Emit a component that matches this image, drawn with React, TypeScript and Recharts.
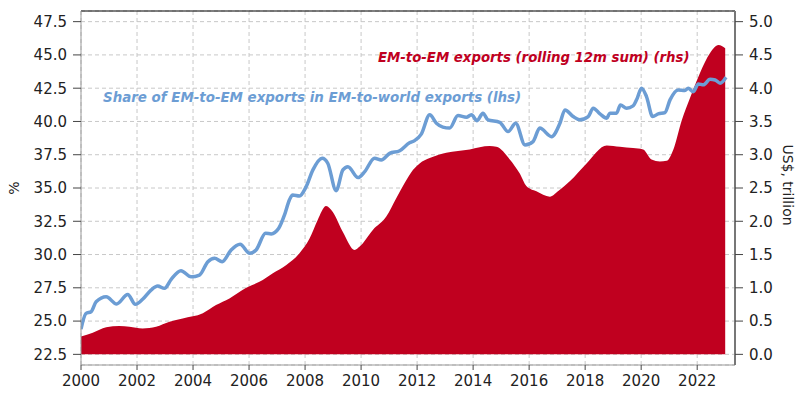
import React from 'react';
import { ComposedChart, Area, Line, XAxis, YAxis, CartesianGrid, ReferenceLine } from 'recharts';

const shareYears = [
  2000.0, 2000.18, 2000.36, 2000.54, 2000.9, 2001.27, 2001.67, 2001.94, 2002.2, 2002.5, 2002.74, 2002.98,
  2003.22, 2003.57, 2003.93, 2004.23, 2004.53, 2004.77, 2005.04, 2005.36, 2005.68, 2006.02, 2006.25, 2006.59,
  2006.79, 2007.06, 2007.27, 2007.44, 2007.56, 2007.8, 2008.04, 2008.28, 2008.61, 2008.81, 2009.11, 2009.35,
  2009.53, 2009.89, 2010.13, 2010.48, 2010.72, 2011.02, 2011.38, 2011.73, 2011.91, 2012.15, 2012.45, 2012.69,
  2012.92, 2013.16, 2013.46, 2013.76, 2013.94, 2014.14, 2014.35, 2014.53, 2014.95, 2015.25, 2015.52, 2015.85,
  2016.14, 2016.38, 2016.8, 2017.1, 2017.28, 2017.57, 2017.81, 2018.11, 2018.29, 2018.53, 2018.77, 2018.88,
  2019.12, 2019.26, 2019.48, 2019.71, 2019.86, 2020.01, 2020.19, 2020.41, 2020.61, 2020.85, 2021.03, 2021.32,
  2021.56, 2021.68, 2021.86, 2022.04, 2022.22, 2022.46, 2022.64, 2022.82, 2023.03,
];
const shareValues = [
  24.4, 25.58, 25.7, 26.45, 26.83, 26.28, 27.0, 26.26, 26.64, 27.33, 27.63, 27.46,
  28.14, 28.79, 28.33, 28.46, 29.46, 29.72, 29.46, 30.34, 30.77, 30.09, 30.34, 31.6,
  31.55, 31.97, 33.0, 34.1, 34.48, 34.4, 35.1, 36.36, 37.24, 36.86, 34.8, 36.36,
  36.6, 35.78, 36.23, 37.24, 37.1, 37.6, 37.8, 38.4, 38.56, 39.05, 40.5, 39.87,
  39.57, 39.5, 40.44, 40.32, 40.5, 40.06, 40.62, 40.12, 39.94, 39.24, 39.87, 38.24,
  38.49, 39.5, 38.86, 39.87, 40.87, 40.37, 40.12, 40.37, 41.0, 40.57, 40.24, 40.62,
  40.62, 41.24, 41.0, 41.17, 41.75, 42.5, 41.87, 40.37, 40.57, 40.67, 41.62, 42.37,
  42.32, 42.5, 42.24, 42.82, 42.75, 43.17, 43.12, 42.87, 43.32,
];

const exportYears = [
  2000.0, 2000.42, 2000.9, 2001.37, 2001.73, 2002.2, 2002.68, 2003.16, 2003.63, 2004.35, 2004.82, 2005.3,
  2005.9, 2006.37, 2006.85, 2007.32, 2007.8, 2008.16, 2008.45, 2008.75, 2008.99, 2009.35, 2009.77, 2009.95,
  2010.42, 2010.9, 2011.26, 2011.55, 2011.85, 2012.09, 2012.45, 2013.04, 2013.88, 2014.59, 2014.83, 2015.31,
  2015.66, 2015.9, 2016.26, 2016.74, 2017.03, 2017.45, 2018.05, 2018.77, 2019.24, 2019.71, 2020.07, 2020.37,
  2020.67, 2020.91, 2021.15, 2021.45, 2021.74, 2022.1, 2022.46, 2022.76, 2023.0,
];
const exportValues = [
  0.27, 0.325, 0.406, 0.426, 0.415, 0.39, 0.415, 0.49, 0.54, 0.617, 0.74, 0.84,
  1.0, 1.09, 1.22, 1.34, 1.52, 1.74, 2.02, 2.23, 2.14, 1.84, 1.57, 1.62,
  1.87, 2.07, 2.35, 2.57, 2.77, 2.87, 2.95, 3.03, 3.08, 3.13, 3.12, 2.93,
  2.72, 2.53, 2.45, 2.37, 2.45, 2.6, 2.87, 3.14, 3.12, 3.1, 3.08, 2.93,
  2.9, 2.91, 3.08, 3.52, 3.85, 4.23, 4.53, 4.65, 4.6,
];

const xTicks = [2000, 2002, 2004, 2006, 2008, 2010, 2012, 2014, 2016, 2018, 2020, 2022];
const leftTicks = [22.5, 25, 27.5, 30, 32.5, 35, 37.5, 40, 42.5, 45, 47.5];
const rightTicks = [0, 0.5, 1, 1.5, 2, 2.5, 3, 3.5, 4, 4.5, 5];

const shareData = shareYears.map((year, i) => ({ year, share: shareValues[i] }));
const exportData = exportYears.map((year, i) => ({ year, exports: exportValues[i] }));

const RED = '#c0001f';
const BLUE = '#6c9dd4';
const FONT = '"DejaVu Sans", Verdana, sans-serif';
const tickStyle = { fill: '#222', fontSize: 15, fontFamily: FONT };

export default function App() {
  return (
    <div style={{ position: 'absolute', left: 0, top: 0, width: 802, height: 394, background: '#fff' }}>
      <ComposedChart width={802} height={394} margin={{ top: 11, right: 0, bottom: 0, left: 0 }}>
        <CartesianGrid yAxisId="left" stroke="#c8c8c8" strokeDasharray="4 3" />
        <XAxis
          dataKey="year"
          type="number"
          domain={[2000, 2023.35]}
          allowDataOverflow
          ticks={xTicks}
          interval={0}
          height={29}
          tickSize={5}
          tickMargin={5}
          tick={tickStyle}
          axisLine={{ stroke: '#999' }}
          tickLine={{ stroke: '#444' }}
        />
        <YAxis
          yAxisId="left"
          type="number"
          domain={[21.7, 48.3]}
          allowDataOverflow
          ticks={leftTicks}
          interval={0}
          width={81}
          tickSize={8}
          tickMargin={6}
          tick={tickStyle}
          tickFormatter={(v: number) => v.toFixed(1)}
          axisLine={{ stroke: '#999' }}
          tickLine={{ stroke: '#444' }}
        />
        <YAxis
          yAxisId="right"
          orientation="right"
          type="number"
          domain={[-0.16, 5.16]}
          allowDataOverflow
          ticks={rightTicks}
          interval={0}
          width={67}
          tickSize={8}
          tickMargin={6}
          tick={tickStyle}
          tickFormatter={(v: number) => v.toFixed(1)}
          axisLine={{ stroke: '#777', strokeWidth: 2 }}
          tickLine={{ stroke: '#444' }}
        />
        <ReferenceLine yAxisId="left" y={48.3} stroke="#000" strokeWidth={1} ifOverflow="visible" />
        <Area
          yAxisId="right"
          data={exportData}
          dataKey="exports"
          type="monotone"
          baseValue={0}
          fill={RED}
          fillOpacity={1}
          stroke="none"
          isAnimationActive={false}
        />
        <Line
          yAxisId="left"
          data={shareData}
          dataKey="share"
          type="monotone"
          stroke={BLUE}
          strokeWidth={3.5}
          dot={false}
          isAnimationActive={false}
        />
      </ComposedChart>
      <svg
        width={802}
        height={394}
        style={{ position: 'absolute', left: 0, top: 0, pointerEvents: 'none' }}
      >
        <text
          x={14}
          y={188}
          transform="rotate(-90 14 188)"
          textAnchor="middle"
          dominantBaseline="central"
          fontFamily={FONT}
          fontSize={14}
          fill="#222"
        >
          %
        </text>
        <text
          x={788}
          y={185}
          transform="rotate(90 788 185)"
          textAnchor="middle"
          dominantBaseline="central"
          fontFamily={FONT}
          fontSize={14}
          fill="#222"
        >
          US$, trillion
        </text>
        <text
          x={378}
          y={62}
          fontFamily={FONT}
          fontSize={13.3}
          fontWeight="bold"
          fontStyle="italic"
          fill={RED}
        >
          EM-to-EM exports (rolling 12m sum) (rhs)
        </text>
        <text
          x={103}
          y={102}
          fontFamily={FONT}
          fontSize={13.4}
          fontWeight="bold"
          fontStyle="italic"
          fill={BLUE}
        >
          Share of EM-to-EM exports in EM-to-world exports (lhs)
        </text>
      </svg>
    </div>
  );
}
